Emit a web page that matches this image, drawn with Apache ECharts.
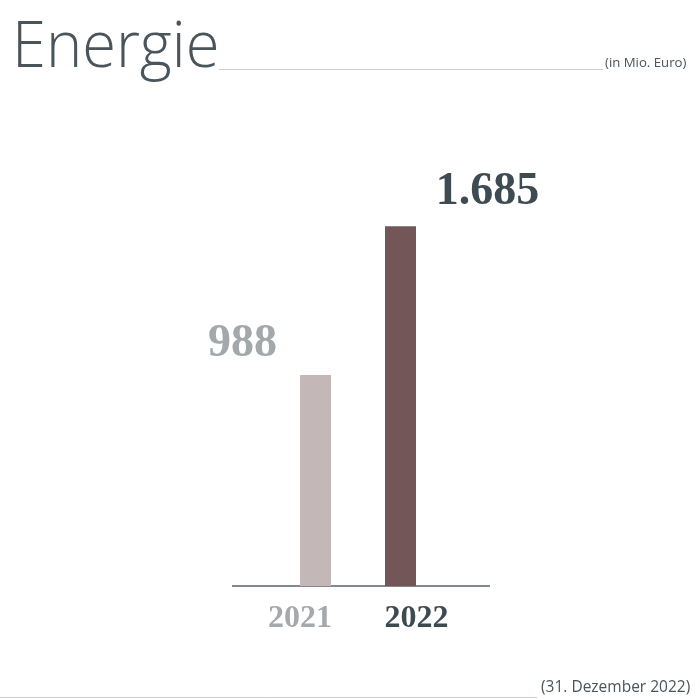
<!DOCTYPE html>
<html><head><meta charset="utf-8">
<script src="https://cdn.jsdelivr.net/npm/echarts@6/dist/echarts.min.js"></script>
<style>html,body{margin:0;padding:0;background:#fff}#c{width:700px;height:700px}</style>
</head><body><div id="c"></div>
<script>
const categories = ['2021', '2022'];
const values = [988, 1685];
const valueLabels = ['988', '1.685'];
const titleText = 'Energie';
const unitText = '(in Mio. Euro)';
const dateText = '(31. Dezember 2022)';

const barColors = ['#c3b7b7', '#735758'];
const labelColors = ['#a3a8ab', '#3f4b53'];
const labelOffsets = [[-73, -3], [87, -6]];

const chart = echarts.init(document.getElementById('c'));
chart.setOption({
  animation: false,
  backgroundColor: '#fff',
  grid: { left: 273, width: 170, bottom: 114, top: 159 },
  xAxis: {
    type: 'category',
    data: categories,
    axisLine: { show: false },
    axisTick: { show: false },
    axisLabel: {
      margin: 17,
      formatter: (v, i) => i === 0 ? '{a|' + v + '}' : '{b|' + v + '}',
      rich: {
        a: { fontFamily: 'Liberation Serif', fontWeight: 'bold', fontSize: 32, color: '#a5a9ac', padding: [0, 31, 0, 0] },
        b: { fontFamily: 'Liberation Serif', fontWeight: 'bold', fontSize: 32, color: '#3e4a52', padding: [0, 0, 0, 32] }
      }
    }
  },
  yAxis: { type: 'value', min: 0, max: 2000, show: false, splitLine: { show: false } },
  series: [{
    type: 'bar',
    barWidth: 31,
    data: values.map((v, i) => ({
      value: v,
      itemStyle: { color: barColors[i] },
      label: {
        show: true, position: 'top', offset: labelOffsets[i],
        formatter: valueLabels[i],
        fontFamily: 'Liberation Serif', fontWeight: 'bold', fontSize: 46, color: labelColors[i]
      }
    }))
  }],
  graphic: [
    { type: 'text', x: 12, y: 17, scaleX: 0.96, style: { text: titleText, fontFamily: 'Open Sans', fontWeight: 300, fontSize: 64, fill: '#4a545b' } },
    { type: 'line', shape: { x1: 219, y1: 69.5, x2: 603, y2: 69.5 }, style: { stroke: '#cccccc', lineWidth: 1 } },
    { type: 'text', left: 605, top: 57, style: { text: unitText, fontFamily: 'Open Sans', fontSize: 13.2, fill: '#4a545b' } },
    { type: 'line', shape: { x1: 232, y1: 586, x2: 490, y2: 586 }, style: { stroke: '#5a6269', lineWidth: 1.5 } },
    { type: 'line', shape: { x1: 0, y1: 697.5, x2: 537, y2: 697.5 }, style: { stroke: '#cccccc', lineWidth: 1 } },
    { type: 'text', left: 541, top: 680, style: { text: dateText, fontFamily: 'Open Sans', fontSize: 15.5, fill: '#4a545b' } }
  ]
});
</script></body></html>
